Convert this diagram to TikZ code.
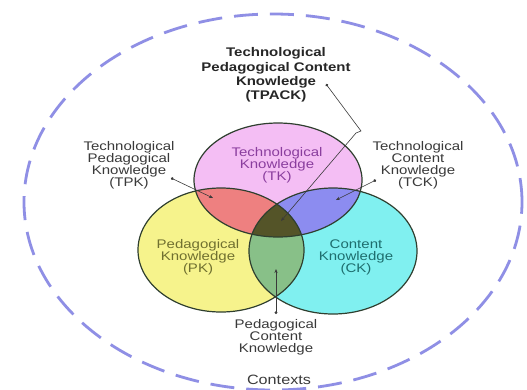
\documentclass[tikz,border=0pt]{standalone}
\usepackage{fontspec}
\setmainfont[FakeStretch=1.2]{Liberation Sans}
\usetikzlibrary{arrows.meta}
\definecolor{tkpink}{HTML}{F4BEF4}
\definecolor{pkyellow}{HTML}{F6F38C}
\definecolor{ckcyan}{HTML}{80F0F0}
\definecolor{tpkred}{HTML}{EE8080}
\definecolor{tckblue}{HTML}{8C8CF0}
\definecolor{pckgreen}{HTML}{88C088}
\definecolor{tpackolive}{HTML}{545428}
\definecolor{ringblue}{HTML}{8F8FE5}
\definecolor{rimdark}{HTML}{2F3F2F}
\definecolor{tktext}{HTML}{8A3E9E}
\definecolor{pktext}{HTML}{707030}
\definecolor{cktext}{HTML}{1E6E6E}
\definecolor{labelgray}{HTML}{3A3A3A}

\tikzset{
  lbl/.style={align=center,inner sep=0pt,text=labelgray,
    font=\fontsize{12.5}{12}\selectfont},
  lead/.style={draw=labelgray,line width=0.6pt,
    {Circle[length=2.8pt]}-{Stealth[length=4pt,width=3.2pt]}},
  rim/.style={draw=rimdark,line width=1.2pt}
}

% the three circles
\def\tkshape{(278,180) ellipse [x radius=84pt, y radius=57pt]}
\def\pkshape{(221,250) ellipse [x radius=83pt, y radius=62pt]}
\def\ckshape{(333,251) ellipse [x radius=84pt, y radius=63pt]}

\begin{document}
\begin{tikzpicture}[x=1pt,y=-1pt]
\useasboundingbox (0,0) rectangle (527,389);
\fill[white] (0,0) rectangle (527,389);

% contexts ring
\draw[ringblue,line width=2.8pt,dash pattern=on 24pt off 12pt]
  (273,202) ellipse [x radius=249pt, y radius=188pt];

\fill[tkpink] \tkshape;
\fill[pkyellow] \pkshape;
\fill[ckcyan] \ckshape;
\begin{scope}
  \clip \tkshape;
  \fill[tpkred] \pkshape;
  \fill[tckblue] \ckshape;
\end{scope}
\begin{scope}
  \clip \pkshape;
  \fill[pckgreen] \ckshape;
\end{scope}
\begin{scope}
  \clip \tkshape;
  \clip \pkshape;
  \fill[tpackolive] \ckshape;
\end{scope}
\draw[rim] \tkshape;
\draw[rim] \pkshape;
\draw[rim] \ckshape;

% labels
\node[lbl,text=tktext] (tk) at (277,165) {Technological\\Knowledge\\(TK)};
\node[lbl,text=pktext] (pk) at (198,257) {Pedagogical\\Knowledge\\(PK)};
\node[lbl,text=cktext] (ck) at (356,257) {Content\\Knowledge\\(CK)};
\node[lbl,font=\bfseries\fontsize{12.5}{14.3}\selectfont,text=black!85]
  (tpack) at (276,75) {Technological\\Pedagogical Content\\Knowledge\\(TPACK)};
\node[lbl] (tpk) at (129,165) {Technological\\Pedagogical\\Knowledge\\(TPK)};
\node[lbl] (tck) at (418,165) {Technological\\Content\\Knowledge\\(TCK)};
\node[lbl] (pck) at (276,337) {Pedagogical\\Content\\Knowledge};
\node[lbl,font=\fontsize{13.5}{14}\selectfont] (ctx) at (279,380) {Contexts};

% leader lines
\coordinate (tpk-out) at (171,178);
\coordinate (tpk-in) at (213,198);
\coordinate (tck-out) at (376,180);
\coordinate (tck-in) at (336,200);
\coordinate (pck-out) at (276,314);
\coordinate (pck-in) at (276,269);
\coordinate (tpack-out) at (326,84);
\coordinate (tpack-kink) at (361,131);
\coordinate (tpack-turn) at (356,133);
\coordinate (tpack-in) at (281,221);
\draw[lead] (tpk-out) -- (tpk-in);
\draw[lead] (tck-out) -- (tck-in);
\draw[lead] (pck-out) -- (pck-in);
\draw[lead] (tpack-out) -- (tpack-kink) -- (tpack-turn) -- (tpack-in);
\end{tikzpicture}
\end{document}
